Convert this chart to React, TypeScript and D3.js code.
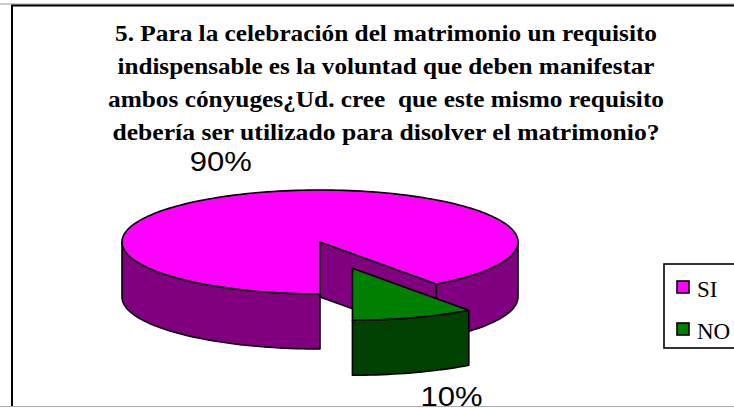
import React from "react";
import * as d3 from "d3";

const categories = ["SI", "NO"];
const values = [90, 10];
const valueLabels = ["90%", "10%"];
const titleLines = [
  "5. Para la celebración del matrimonio un requisito",
  "indispensable es la voluntad que deben manifestar",
  "ambos cónyuges¿Ud. cree  que este mismo requisito",
  "debería ser utilizado para disolver el matrimonio?",
];
const titleWidths = [542, 537, 556, 547];

const W = 734;
const H = 408;
const cx = 320;
const cy = 242;
const rx = 198;
const ry = 52;
const depth = 55;
const explode = [0, 0.53];
const topColors = ["#FF00FF", "#008000"];
const sideColors = ["#800080", "#004000"];

type P = [number, number];

function pt(theta: number, z: number, ox: number, oy: number): P {
  return [cx + ox + rx * Math.sin(theta), cy + oy - ry * Math.cos(theta) + z];
}

function arcPts(a0: number, a1: number, z: number, ox: number, oy: number): P[] {
  const n = Math.max(2, Math.ceil(Math.abs(a1 - a0) / 0.03));
  const out: P[] = [];
  for (let i = 0; i <= n; i++) out.push(pt(a0 + ((a1 - a0) * i) / n, z, ox, oy));
  return out;
}

const line = d3.line<P>().x((d) => d[0]).y((d) => d[1]);

export default function App() {
  const pie = d3
    .pie<number>()
    .sort(null)
    .startAngle(Math.PI)
    .endAngle(3 * Math.PI)(values);

  const slices = pie.map((s, i) => {
    const mid = (s.startAngle + s.endAngle) / 2;
    const ox = explode[i] * rx * Math.sin(mid);
    const oy = -explode[i] * ry * Math.cos(mid);
    const c: P = [cx + ox, cy + oy];
    const cb: P = [cx + ox, cy + oy + depth];
    const sides: string[] = [];
    const eps = 1e-6;
    if (Math.sin(s.endAngle) > eps) {
      const e = pt(s.endAngle, 0, ox, oy);
      const eb = pt(s.endAngle, depth, ox, oy);
      sides.push(line([c, e, eb, cb])! + "Z");
    }
    if (Math.sin(s.startAngle) < -eps) {
      const e = pt(s.startAngle, 0, ox, oy);
      const eb = pt(s.startAngle, depth, ox, oy);
      sides.push(line([c, e, eb, cb])! + "Z");
    }
    for (let k = -1; k <= 2; k++) {
      const v0 = Math.PI / 2 + 2 * Math.PI * k;
      const v1 = (3 * Math.PI) / 2 + 2 * Math.PI * k;
      const a = Math.max(v0, s.startAngle);
      const b = Math.min(v1, s.endAngle);
      if (b - a > 1e-4) {
        const top = arcPts(a, b, 0, ox, oy);
        const bot = arcPts(b, a, depth, ox, oy);
        sides.push(line([...top, ...bot])! + "Z");
      }
    }
    const topPath = line([c, ...arcPts(s.startAngle, s.endAngle, 0, ox, oy)])! + "Z";
    const f = 1.62;
    const lx = cx + ox + rx * f * Math.sin(mid);
    const front = Math.cos(mid) < 0;
    const ly = cy + oy - ry * f * Math.cos(mid) + (front ? depth - 6 : 0) + 9;
    return { i, sides, topPath, lx, ly };
  });

  return (
    <svg
      width={W}
      height={H}
      style={{ position: "absolute", left: 0, top: 0, background: "#fff" }}
    >
      <rect x={0} y={0} width={W} height={H} fill="#fff" />
      <line x1={0} x2={W} y1={4} y2={4} stroke="#999" strokeWidth={1} />
      <line x1={11} x2={W} y1={5.5} y2={5.5} stroke="#000" strokeWidth={2} />
      <line x1={12} x2={12} y1={5} y2={407} stroke="#000" strokeWidth={2} />
      <line x1={0} x2={W} y1={406.5} y2={406.5} stroke="#aaa" strokeWidth={1} />

      {titleLines.map((t, i) => (
        <text
          key={i}
          x={386}
          y={41 + i * 33}
          textAnchor="middle"
          fontFamily="'Liberation Serif', 'Times New Roman', serif"
          fontWeight="bold"
          fontSize={24}
          textLength={titleWidths[i]}
          lengthAdjust="spacingAndGlyphs"
          style={{ whiteSpace: "pre" }}
        >
          {t}
        </text>
      ))}

      {slices.map((s) => (
        <g key={s.i}>
          {s.sides.map((d, j) => (
            <path
              key={j}
              d={d}
              fill={sideColors[s.i]}
              stroke="#000"
              strokeWidth={1.6}
              strokeLinejoin="round"
            />
          ))}
          <path
            d={s.topPath}
            fill={topColors[s.i]}
            stroke="#000"
            strokeWidth={1.6}
            strokeLinejoin="round"
          />
        </g>
      ))}

      {slices.map((s) => (
        <text
          key={"l" + s.i}
          x={s.lx}
          y={s.ly}
          textAnchor="middle"
          fontFamily="'Liberation Sans', Arial, sans-serif"
          fontSize={28}
          textLength={62}
          lengthAdjust="spacingAndGlyphs"
        >
          {valueLabels[s.i]}
        </text>
      ))}

      <rect x={664} y={264} width={100} height={84} fill="#fff" stroke="#000" strokeWidth={1.6} />
      {categories.map((c, i) => (
        <g key={c}>
          <rect
            x={677}
            y={281 + i * 42}
            width={12}
            height={12}
            fill={topColors[i]}
            stroke="#000"
            strokeWidth={1.6}
          />
          <text
            x={697}
            y={297 + i * 42}
            fontFamily="'Liberation Serif', 'Times New Roman', serif"
            fontSize={23}
          >
            {c}
          </text>
        </g>
      ))}
    </svg>
  );
}
